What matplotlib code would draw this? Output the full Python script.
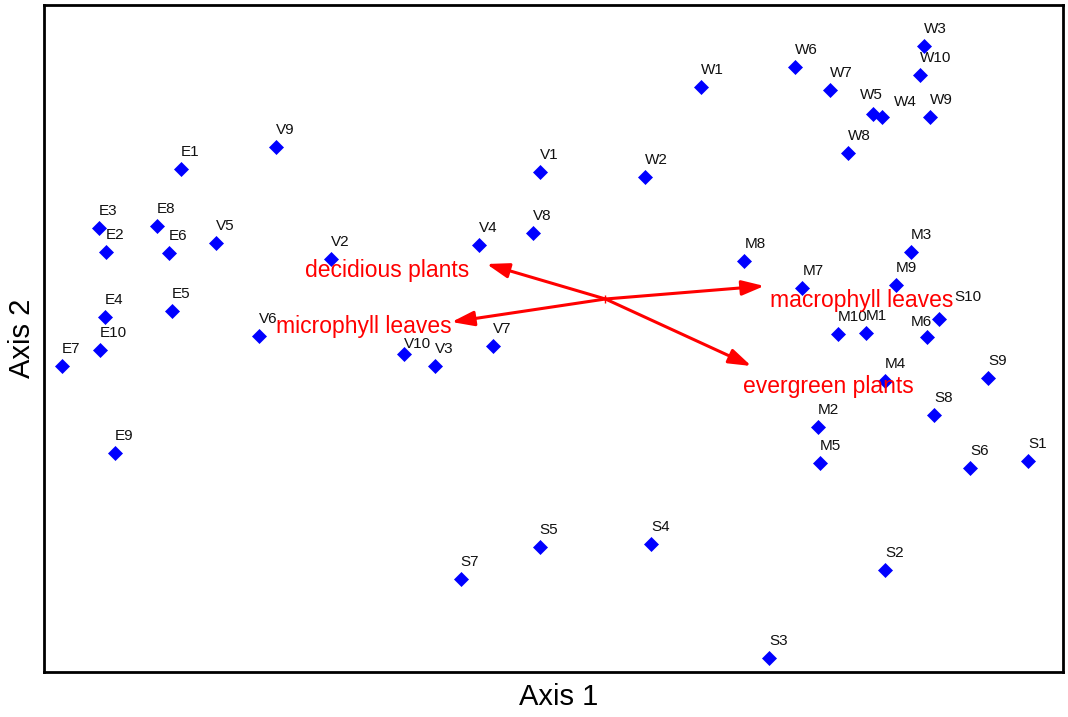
import matplotlib
matplotlib.use('Agg')
import matplotlib.pyplot as plt

plt.rcParams['font.family'] = ['Liberation Sans', 'DejaVu Sans']

# site scores (Axis 1, Axis 2)
e_labels = ['E1', 'E2', 'E3', 'E4', 'E5', 'E6', 'E7', 'E8', 'E9', 'E10']
e_x = [137, 62, 55, 61, 128, 125, 18, 113, 71, 56]
e_y = [503, 420, 444, 355, 361, 419, 306, 446, 219, 322]

v_labels = ['V1', 'V2', 'V3', 'V4', 'V5', 'V6', 'V7', 'V8', 'V9', 'V10']
v_x = [496, 287, 391, 435, 172, 215, 449, 489, 232, 360]
v_y = [500, 413, 306, 427, 429, 336, 326, 439, 525, 318]

w_labels = ['W1', 'W2', 'W3', 'W4', 'W5', 'W6', 'W7', 'W8', 'W9', 'W10']
w_x = [658, 602, 881, 839, 830, 752, 787, 805, 887, 877]
w_y = [585, 495, 626, 555, 558, 605, 582, 519, 555, 597]

m_labels = ['M1', 'M2', 'M3', 'M4', 'M5', 'M6', 'M7', 'M8', 'M9', 'M10']
m_x = [823, 775, 868, 842, 777, 884, 759, 701, 853, 795]
m_y = [339, 245, 420, 291, 209, 335, 384, 411, 387, 338]

s_labels = ['S1', 'S2', 'S3', 'S4', 'S5', 'S6', 'S7', 'S8', 'S9', 'S10']
s_x = [985, 842, 726, 608, 496, 927, 417, 891, 945, 896]
s_y = [211, 102, 14, 128, 125, 204, 93, 257, 294, 353]

# environmental vectors
vec_origin = (562, 373)
vec_labels = ['decidious plants', 'microphyll leaves', 'macrophyll leaves', 'evergreen plants']
vec_x = [443, 408, 721, 708]
vec_y = [408, 350, 386, 306]

labels = e_labels + v_labels + w_labels + m_labels + s_labels
xs = e_x + v_x + w_x + m_x + s_x
ys = e_y + v_y + w_y + m_y + s_y

# label nudges (pixels) where labels were moved to avoid overlap
nudge = {'W5': (-13, 15), 'W4': (12, 11), 'M6': (-16, 11), 'S10': (15, 18), 'V10': (0, 6)}
# vector label placement relative to tip (pixels): left edge, baseline
vec_text_off = [(-182, -13), (-176, -11), (6, -21), (-8, -27)]

fig = plt.figure(figsize=(10.68, 7.17), dpi=100)
ax = fig.add_axes([44 / 1068, 45 / 717, 1019 / 1068, 667 / 717])

ax.plot(xs, ys, 'D', color='#0000ff', ms=7.5, mec='#0000ff', mew=0.5, zorder=3)
for lab, x, y in zip(labels, xs, ys):
    dx, dy = nudge.get(lab, (0, 13))
    ax.annotate(lab, (x, y), xytext=(dx * 0.72, dy * 0.72), textcoords='offset points',
                ha='left', va='baseline', fontsize=11, color='#111111', zorder=4)

for lab, tx, ty, off in zip(vec_labels, vec_x, vec_y, vec_text_off):
    ax.annotate('', xy=(tx, ty), xytext=vec_origin,
                arrowprops=dict(arrowstyle='-|>,head_length=0.9,head_width=0.3',
                                color='#ff0000', lw=2.2, mutation_scale=15,
                                shrinkA=0, shrinkB=0), zorder=2)
    ax.annotate(lab, (tx, ty), xytext=(off[0] * 0.72, off[1] * 0.72), textcoords='offset points',
                ha='left', va='baseline', fontsize=16.5, color='#ff0000', zorder=5)
ax.plot(*vec_origin, '|', color='#ff0000', ms=6, mew=1, zorder=2)

ax.set_xlim(0, 1020)
ax.set_ylim(0, 667)
ax.set_xticks([])
ax.set_yticks([])
for sp in ax.spines.values():
    sp.set_linewidth(2)

ax.set_xlabel('Axis 1', fontsize=21, va='top')
ax.xaxis.set_label_coords(0.505, -0.016)
ax.set_ylabel('Axis 2', fontsize=21, labelpad=6)

fig.savefig('out.png', dpi=100)
